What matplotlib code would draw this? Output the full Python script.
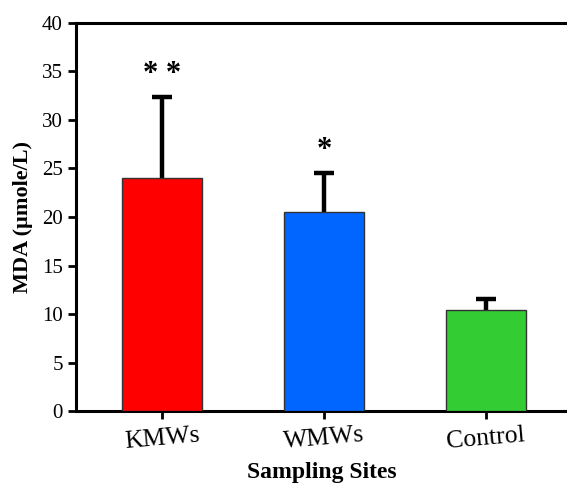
import matplotlib
matplotlib.use("Agg")
import matplotlib.pyplot as plt
import numpy as np

# 데이터
sites = ["KMWs", "WMWs", "Control"]
mda_mean = [24.0, 20.5, 10.4]
mda_err = [8.4, 4.0, 1.2]
signif = ["* *", "*", ""]
bar_colors = ["#FF0000", "#0066FF", "#33CC33"]
y_ticks = [0, 5, 10, 15, 20, 25, 30, 35, 40]

plt.rcParams["font.family"] = ["Liberation Serif", "DejaVu Serif"]

fig = plt.figure(figsize=(5.67, 4.86), dpi=100)
ax = fig.add_axes([0.134, 0.154, 0.866, 0.799])

x = np.arange(len(sites))
ax.bar(x, mda_mean, width=0.49, color=bar_colors, edgecolor="#333333", linewidth=1.0, zorder=3)
eb = ax.errorbar(x, mda_mean, yerr=[np.zeros(len(x)), mda_err], fmt="none",
                 ecolor="black", elinewidth=3.2, capsize=7, capthick=3.2, zorder=1)
# 아래쪽 캡 제거 (위쪽만 표시)
eb[1][0].set_visible(False)

for xi, m, e, s in zip(x, mda_mean, mda_err, signif):
    if s:
        ax.text(xi, m + e + 2.3, s, ha="center", va="center", fontsize=22,
                fontweight="bold")

ax.set_xlim(-0.53, 2.5)
ax.set_ylim(0, 40)
ax.set_yticks(y_ticks)
ax.set_yticklabels([str(v) for v in y_ticks], fontsize=15)
ax.set_xticks(x)
ax.set_xticklabels(sites, fontsize=18.5, rotation=5)

ax.set_ylabel("MDA (µmole/L)", fontsize=16, fontweight="bold", labelpad=6)
ax.set_xlabel("Sampling Sites", fontsize=17, fontweight="bold", labelpad=6)

for side in ["left", "bottom", "top"]:
    ax.spines[side].set_linewidth(2.2)
ax.spines["right"].set_visible(False)
ax.tick_params(axis="both", direction="out", width=2, length=6, colors="black")

fig.savefig("out.png", dpi=100)
